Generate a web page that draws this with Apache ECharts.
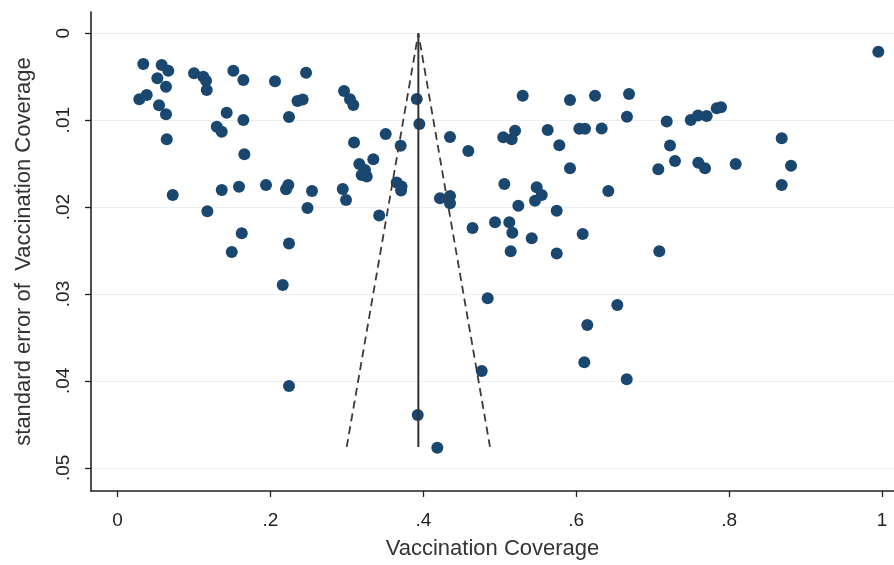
<!DOCTYPE html>
<html>
<head>
<meta charset="utf-8">
<script src="https://cdn.jsdelivr.net/npm/echarts@6/dist/echarts.min.js"></script>
<style>
html,body{margin:0;padding:0;background:#fff;}
#chart{width:894px;height:565px;}
</style>
</head>
<body>
<div id="chart"></div>
<script>
// Study-level estimates: vaccination coverage and its standard error
const coverage = [
  0.0337,0.0578,0.0664,0.0521,0.0634,0.0285,0.0382,0.0543,0.0634,0.0644,
  0.1001,0.1122,0.1158,0.1167,0.1515,0.1646,0.2060,0.2466,0.1428,0.1646,
  0.1298,0.1363,0.1659,0.2354,0.2422,0.2243,0.2963,0.3041,0.3084,0.3508,
  0.3094,0.3346,0.3163,0.3237,0.3260,0.3194,0.0722,0.1363,0.1589,0.1942,
  0.2234,0.2204,0.2544,0.2946,0.2989,0.1175,0.2485,0.1625,0.2243,0.1494,
  0.3423,0.2161,0.2243,
  0.3914,0.3948,0.3704,0.4349,0.4589,0.3652,0.3715,0.3709,0.4218,0.4349,0.4349,
  0.4644,0.3927,0.4183,0.4764,0.4842,
  0.5300,0.5919,0.6246,0.6691,0.6664,0.7184,0.7498,0.7593,0.7707,0.7838,0.7894,
  0.5200,0.5046,0.5156,0.5627,0.6041,0.6115,0.6333,0.5779,0.7227,0.7292,0.7597,0.7685,
  0.7074,0.5919,0.8086,0.8688,0.8810,0.8688,0.5060,0.5483,0.5549,0.5461,0.6420,0.5243,
  0.5745,0.4938,0.5125,0.5164,0.5418,0.6085,0.5143,0.5745,0.7087,0.6538,0.6145,0.6106,0.6661,0.9952
];
const standardError = [
  0.00353,0.00365,0.0043,0.00518,0.00614,0.0076,0.0071,0.00829,0.00932,0.0122,
  0.0046,0.0050,0.00545,0.00652,0.0043,0.00537,0.00552,0.00453,0.00914,0.00998,
  0.01075,0.01132,0.01392,0.00779,0.00762,0.00963,0.00664,0.0076,0.00825,0.01159,
  0.01257,0.0145,0.01504,0.01573,0.01648,0.01631,0.01861,0.01803,0.01765,0.01746,
  0.01746,0.01795,0.01815,0.01792,0.01918,0.02048,0.0201,0.02301,0.02419,0.02517,
  0.02097,0.02896,0.04059,
  0.00756,0.01044,0.01293,0.01193,0.01354,0.01717,0.01763,0.01809,0.01899,0.01872,0.01956,
  0.0224,0.04392,0.04769,0.03886,0.0305,
  0.00718,0.00768,0.00718,0.00699,0.0096,0.01015,0.00998,0.00946,0.00952,0.00863,0.00852,
  0.01121,0.01197,0.0122,0.01113,0.01098,0.01098,0.01096,0.01289,0.01291,0.0147,0.01489,0.01554,
  0.01565,0.01554,0.01504,0.01208,0.01524,0.01746,0.01734,0.01772,0.01861,0.01926,0.01815,0.01984,
  0.02041,0.02175,0.02175,0.02295,0.02359,0.0231,0.02509,0.02534,0.02509,0.03127,0.03357,0.03786,0.03982,0.00212
];

// Funnel: pooled estimate and pseudo 95% limits at the largest SE
const pooledEstimate = 0.3935;
const funnelMaxSE = 0.0476;
const funnelLowerAtMax = 0.2998;
const funnelUpperAtMax = 0.4872;

// Axis ticks
const xTickValues = [0, 0.2, 0.4, 0.6, 0.8, 1];
const xTickLabels = ['0', '.2', '.4', '.6', '.8', '1'];
const yTickValues = [0, 0.01, 0.02, 0.03, 0.04, 0.05];
const yTickLabels = ['0', '.01', '.02', '.03', '.04', '.05'];

const points = coverage.map((c, i) => [c, standardError[i]]);
const labelFor = (vals, labels) => v => {
  const i = vals.findIndex(t => Math.abs(t - v) < 1e-9);
  return i >= 0 ? labels[i] : '';
};

const FONT = '"Liberation Sans", Arial, sans-serif';
const chart = echarts.init(document.getElementById('chart'), null, {renderer: 'canvas'});
chart.setOption({
  animation: false,
  backgroundColor: '#ffffff',
  grid: {left: 91, top: 12, right: 0, bottom: 74, containLabel: false},
  xAxis: {
    type: 'value',
    min: -0.0347, max: 1.0157,
    name: 'Vaccination Coverage',
    nameLocation: 'middle',
    nameGap: 47,
    nameTextStyle: {fontFamily: FONT, fontSize: 22, color: '#333'},
    axisLine: {show: true, onZero: false, lineStyle: {color: '#222', width: 1.6}},
    axisTick: {show: true, customValues: xTickValues, length: 6, lineStyle: {color: '#222', width: 1.3}},
    axisLabel: {customValues: xTickValues, formatter: labelFor(xTickValues, xTickLabels),
      fontFamily: FONT, fontSize: 19, color: '#222', margin: 20},
    splitLine: {show: false}
  },
  yAxis: {
    type: 'value',
    inverse: true,
    min: -0.00245, max: 0.05267,
    name: 'standard error of  Vaccination Coverage',
    nameLocation: 'middle',
    nameGap: 56,
    nameTextStyle: {fontFamily: FONT, fontSize: 22, color: '#333'},
    axisLine: {show: true, onZero: false, lineStyle: {color: '#222', width: 1.6}},
    axisTick: {show: true, customValues: yTickValues, length: 6, lineStyle: {color: '#222', width: 1.3}},
    axisLabel: {customValues: yTickValues, formatter: labelFor(yTickValues, yTickLabels),
      rotate: 90, fontFamily: FONT, fontSize: 19, color: '#222', margin: 18},
    splitLine: {show: true, lineStyle: {color: '#eceff1', width: 1.2}}
  },
  series: [
    {
      type: 'line',
      data: [[pooledEstimate, 0], [pooledEstimate, funnelMaxSE]],
      symbol: 'none',
      lineStyle: {color: '#333', width: 2},
      silent: true, z: 3
    },
    {
      type: 'line',
      data: [[funnelLowerAtMax, funnelMaxSE], [pooledEstimate, 0], [funnelUpperAtMax, funnelMaxSE]],
      symbol: 'none',
      lineStyle: {color: '#3a3a3a', width: 1.8, type: [8, 5]},
      silent: true, z: 3
    },
    {
      type: 'scatter',
      data: points,
      symbol: 'circle',
      symbolSize: 12,
      itemStyle: {color: '#1a476f', opacity: 1},
      z: 2
    }
  ]
});
</script>
</body>
</html>
